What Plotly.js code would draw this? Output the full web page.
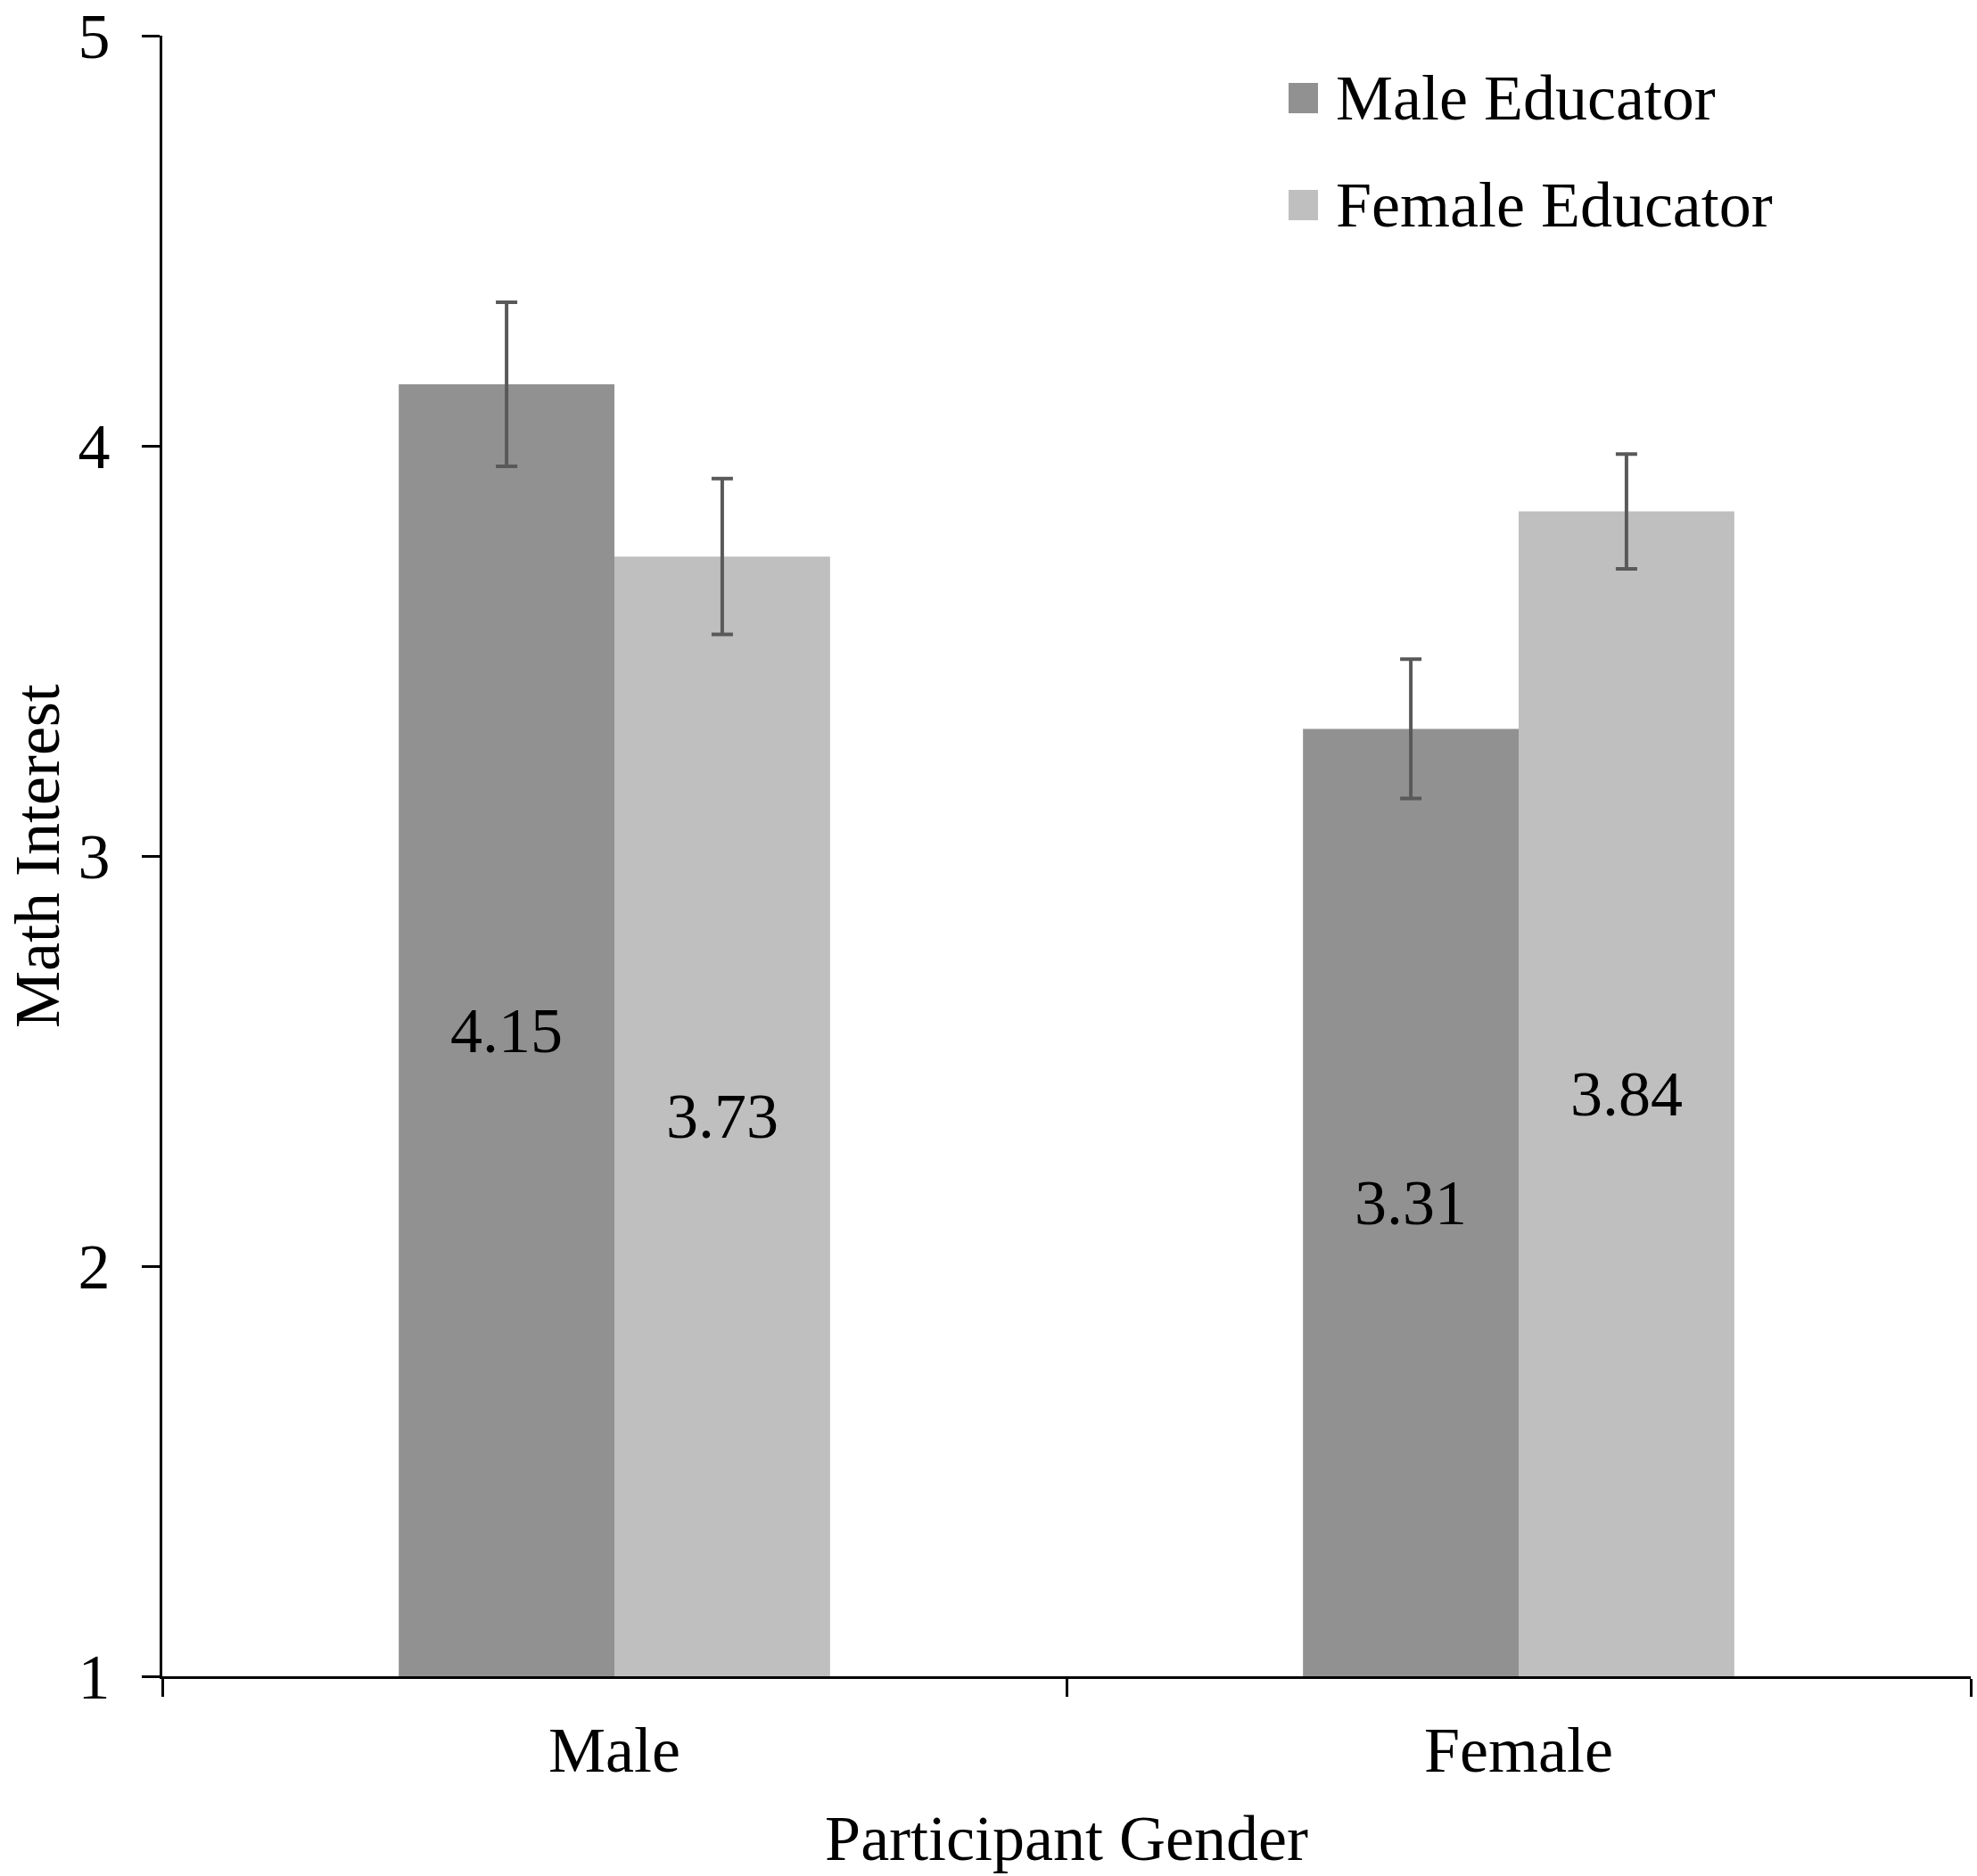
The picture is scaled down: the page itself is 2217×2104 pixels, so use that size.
<!DOCTYPE html>
<html>
<head>
<meta charset="utf-8">
<script src="https://cdn.plot.ly/plotly-3.0.1.min.js"></script>
<style>body{margin:0;background:#fff;}</style>
</head>
<body>
<div id="chart" style="width:2217px;height:2104px;"></div>
<script>
// data
const participants = ['Male', 'Female'];
const seriesNames = ['Male Educator', 'Female Educator'];
const maleEducator = [4.15, 3.31];
const femaleEducator = [3.73, 3.84];
const maleEducatorErr = [0.20, 0.17];
const femaleEducatorErr = [0.19, 0.14];
const seriesColors = ['#919191', '#bfbfbf'];
const yTicks = [1, 2, 3, 4, 5];

const W = 2217, H = 2104;
const M = {l: 182, r: 7, t: 40, b: 224};
const font = 'Liberation Serif, Times New Roman, serif';
const axisBase = yTicks[0];

// pixel -> paper helpers for the hand-built legend / y title
const pw = W - M.l - M.r, ph = H - M.t - M.b;
const px = x => (x - M.l) / pw;
const py = y => (H - M.b - y) / ph;

function barTrace(name, vals, errs, color) {
    return {
        type: 'bar',
        name: name,
        x: participants,
        y: vals.map(v => v - axisBase),
        base: axisBase,
        marker: {color: color, line: {width: 0}},
        text: vals.map(v => v.toFixed(2)),
        textposition: 'inside',
        insidetextanchor: 'middle',
        textangle: 0,
        textfont: {family: font, size: 72, color: '#000'},
        error_y: {type: 'data', array: errs, visible: true,
                  color: '#595959', thickness: 4, width: 12},
        showlegend: false
    };
}

const traces = [
    barTrace(seriesNames[0], maleEducator, maleEducatorErr, seriesColors[0]),
    barTrace(seriesNames[1], femaleEducator, femaleEducatorErr, seriesColors[1])
];

// legend: big swatches like the original
const legendRows = [110, 230];
const shapes = [];
const annotations = [];
seriesNames.forEach((n, i) => {
    const cy = legendRows[i];
    shapes.push({type: 'rect', xref: 'paper', yref: 'paper',
        x0: px(1445), x1: px(1478), y0: py(cy - 17), y1: py(cy + 17),
        fillcolor: seriesColors[i], line: {width: 0}});
    annotations.push({xref: 'paper', yref: 'paper', x: px(1496), y: py(cy),
        xanchor: 'left', yanchor: 'middle', showarrow: false, text: n,
        font: {family: font, size: 72, color: '#000'}});
});

// y title placed by hand, close to the left edge
annotations.push({xref: 'paper', yref: 'paper', x: px(42), y: 0.5,
    xanchor: 'center', yanchor: 'middle', textangle: -90, showarrow: false,
    text: 'Math Interest', font: {family: font, size: 72, color: '#000'}});

const layout = {
    width: W, height: H,
    margin: M,
    paper_bgcolor: '#fff', plot_bgcolor: '#fff',
    font: {family: font, size: 72, color: '#000'},
    barmode: 'group',
    bargap: 0.523,
    bargroupgap: 0,
    showlegend: false,
    xaxis: {
        type: 'category',
        range: [-0.5, 1.5],
        tickson: 'boundaries',
        ticks: 'outside', ticklen: 20, tickwidth: 3, tickcolor: '#000',
        showline: true, linewidth: 3, linecolor: '#000',
        showgrid: false, zeroline: false,
        tickfont: {family: font, size: 72, color: '#000'},
        ticklabelstandoff: 18,
        title: {text: 'Participant Gender', font: {family: font, size: 72, color: '#000'}, standoff: 34},
        automargin: false
    },
    yaxis: {
        range: [1, 5],
        tickvals: yTicks,
        ticks: 'outside', ticklen: 20, tickwidth: 3, tickcolor: '#000',
        showline: true, linewidth: 3, linecolor: '#000',
        showgrid: false, zeroline: false,
        tickfont: {family: font, size: 72, color: '#000'},
        ticklabelstandoff: 21,
        ticklabeloverflow: 'allow',
        automargin: false
    },
    shapes: shapes,
    annotations: annotations
};

Plotly.newPlot('chart', traces, layout, {displayModeBar: false, staticPlot: true});
</script>
</body>
</html>
